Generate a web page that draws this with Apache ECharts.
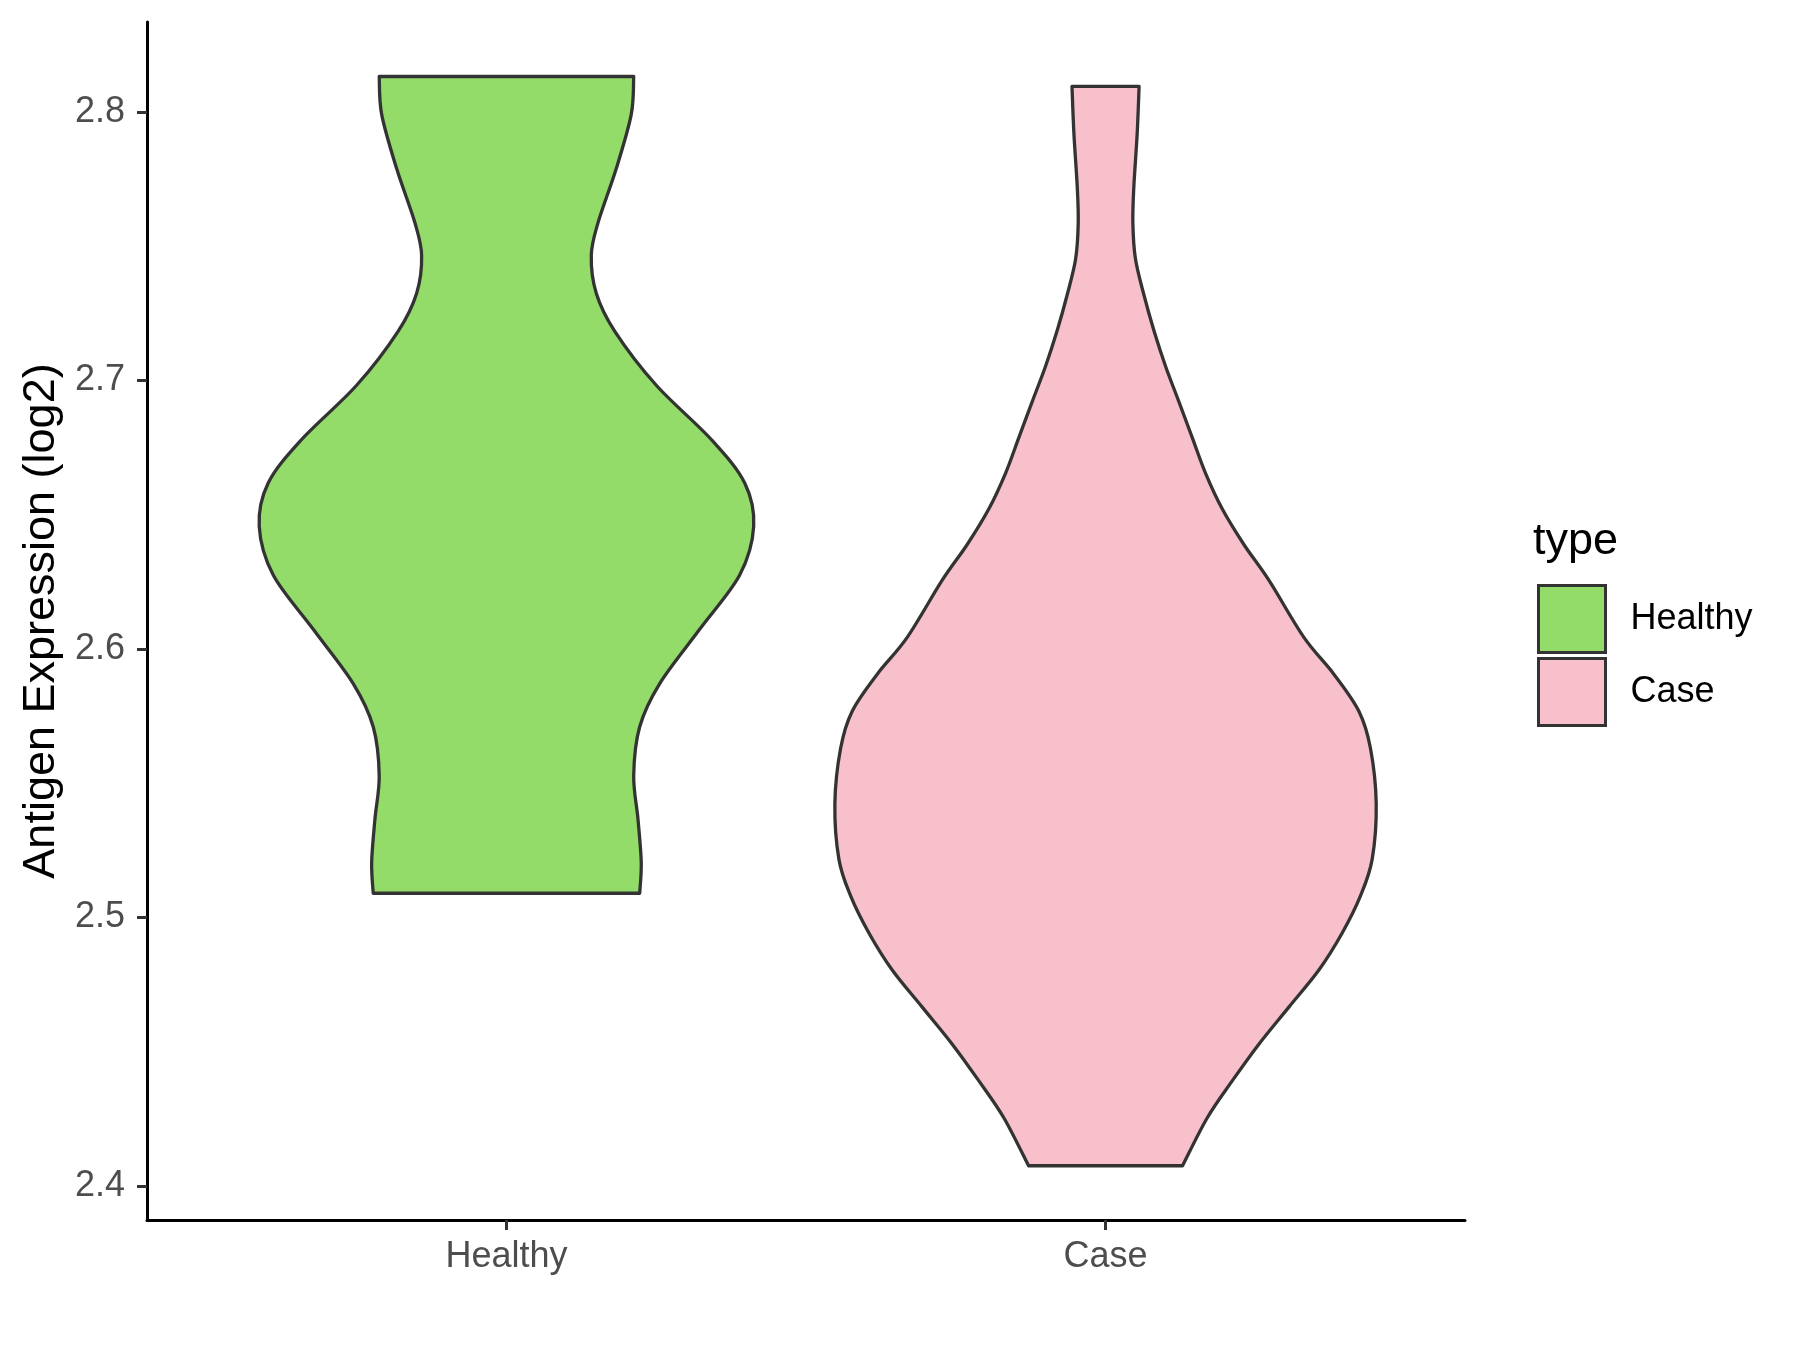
<!DOCTYPE html>
<html>
<head>
<meta charset="utf-8">
<script src="https://cdn.jsdelivr.net/npm/echarts@6/dist/echarts.min.js"></script>
<style>
  html, body { margin: 0; padding: 0; background: #ffffff; }
  #chart { width: 1800px; height: 1350px; }
</style>
</head>
<body>
<div id="chart"></div>
<script>
// ---- data ----
const categories = ['Healthy', 'Case'];
const yTicks = [2.4, 2.5, 2.6, 2.7, 2.8];

// violin profile for Healthy: expression values (top -> bottom) and half widths (in category units)
const healthyValues = [2.8132, 2.7991, 2.7789, 2.7587, 2.7466, 2.7325, 2.7184, 2.6982, 2.6780, 2.6618,
                       2.6457, 2.6275, 2.6073, 2.5871, 2.5710, 2.5528, 2.5367, 2.5205, 2.5090];
const healthyHalfWidths = [0.2124, 0.2083, 0.1833, 0.1528, 0.1416, 0.1499, 0.1806, 0.2501, 0.3419, 0.3977,
                           0.4127, 0.3893, 0.3225, 0.2558, 0.2224, 0.2124, 0.2195, 0.2250, 0.2224];

// violin profile for Case
const caseValues = [2.8095, 2.7919, 2.7720, 2.7586, 2.7453, 2.7320, 2.7187, 2.7054, 2.6921, 2.6788,
                    2.6655, 2.6522, 2.6389, 2.6256, 2.6043, 2.5906, 2.5768, 2.5630, 2.5424, 2.5217,
                    2.5080, 2.4942, 2.4804, 2.4666, 2.4528, 2.4391, 2.4253, 2.4075];
const caseHalfWidths = [0.0560, 0.0528, 0.0472, 0.0456, 0.0499, 0.0639, 0.0806, 0.1000, 0.1224, 0.1446,
                        0.1668, 0.1947, 0.2309, 0.2726, 0.3311, 0.3811, 0.4229, 0.4422, 0.4518, 0.4451,
                        0.4255, 0.3950, 0.3561, 0.3060, 0.2559, 0.2114, 0.1696, 0.1285];

const colors = { Healthy: '#94DC6A', Case: '#F7C0CB' };
const FONT = '"Liberation Sans", Arial, sans-serif';

// ---- drawing helpers ----
function catmullPath(pts) {
  let d = '';
  const n = pts.length;
  for (let i = 0; i < n - 1; i++) {
    const p0 = pts[Math.max(i - 1, 0)];
    const p1 = pts[i];
    const p2 = pts[i + 1];
    const p3 = pts[Math.min(i + 2, n - 1)];
    const c1x = p1[0] + (p2[0] - p0[0]) / 6;
    const c1y = p1[1] + (p2[1] - p0[1]) / 6;
    const c2x = p2[0] - (p3[0] - p1[0]) / 6;
    const c2y = p2[1] - (p3[1] - p1[1]) / 6;
    d += ' C' + c1x + ',' + c1y + ' ' + c2x + ',' + c2y + ' ' + p2[0] + ',' + p2[1];
  }
  return d;
}

function violinRenderer(values, halfWidths, fill) {
  return function (params, api) {
    const center = api.value(0);
    const left = values.map((v, i) => api.coord([center - halfWidths[i], v]));
    const right = values.map((v, i) => api.coord([center + halfWidths[i], v])).reverse();
    let d = 'M' + left[0][0] + ',' + left[0][1];
    d += catmullPath(left);
    d += ' L' + right[0][0] + ',' + right[0][1];
    d += catmullPath(right);
    d += ' Z';
    return {
      type: 'path',
      shape: { pathData: d },
      style: { fill: fill, stroke: '#333333', lineWidth: 3.3, lineJoin: 'round' }
    };
  };
}

const chart = echarts.init(document.getElementById('chart'), null, { renderer: 'canvas' });

const option = {
  backgroundColor: '#ffffff',
  animation: false,
  textStyle: { fontFamily: FONT },
  grid: { left: 147, right: 335, top: 22, bottom: 130, containLabel: false },
  title: {
    text: 'type',
    left: 1533,
    top: 519,
    padding: 0,
    textStyle: { fontFamily: FONT, fontSize: 45, fontWeight: 'normal', color: '#000000' }
  },
  legend: {
    orient: 'vertical',
    left: 1537,
    top: 584,
    padding: 0,
    itemWidth: 67,
    itemHeight: 67,
    itemGap: 3,
    icon: 'rect',
    selectedMode: false,
    itemStyle: { borderColor: '#333333', borderWidth: 3 },
    textStyle: { fontFamily: FONT, fontSize: 36, color: '#000000', padding: [0, 0, 0, 20] },
    data: categories
  },
  xAxis: {
    type: 'value',
    min: 0.4,
    max: 2.6,
    splitLine: { show: false },
    axisLine: { show: true, onZero: false, lineStyle: { color: '#000000', width: 3 } },
    axisTick: { show: true, length: 10, customValues: [1, 2], lineStyle: { color: '#333333', width: 3 } },
    axisLabel: {
      customValues: [1, 2],
      margin: 19,
      fontFamily: FONT,
      fontSize: 36,
      color: '#4D4D4D',
      formatter: function (v) { return categories[Math.round(v) - 1] || ''; }
    }
  },
  yAxis: {
    type: 'value',
    min: 2.3873,
    max: 2.8335,
    name: 'Antigen Expression (log2)',
    nameLocation: 'middle',
    nameGap: 80,
    nameTextStyle: { fontFamily: FONT, fontSize: 45, color: '#000000' },
    splitLine: { show: false },
    axisLine: { show: true, onZero: false, lineStyle: { color: '#000000', width: 3 } },
    axisTick: { show: true, length: 10, customValues: yTicks, lineStyle: { color: '#333333', width: 3 } },
    axisLabel: {
      customValues: yTicks,
      margin: 22,
      fontFamily: FONT,
      fontSize: 36,
      color: '#4D4D4D',
      formatter: function (v) { return v.toFixed(1); }
    }
  },
  series: [
    {
      name: 'Healthy',
      type: 'custom',
      itemStyle: { color: colors.Healthy },
      renderItem: violinRenderer(healthyValues, healthyHalfWidths, colors.Healthy),
      encode: { x: 0, y: 1 },
      data: [[1, healthyValues[0]]]
    },
    {
      name: 'Case',
      type: 'custom',
      itemStyle: { color: colors.Case },
      renderItem: violinRenderer(caseValues, caseHalfWidths, colors.Case),
      encode: { x: 0, y: 1 },
      data: [[2, caseValues[0]]]
    }
  ]
};

chart.setOption(option);
</script>
</body>
</html>
